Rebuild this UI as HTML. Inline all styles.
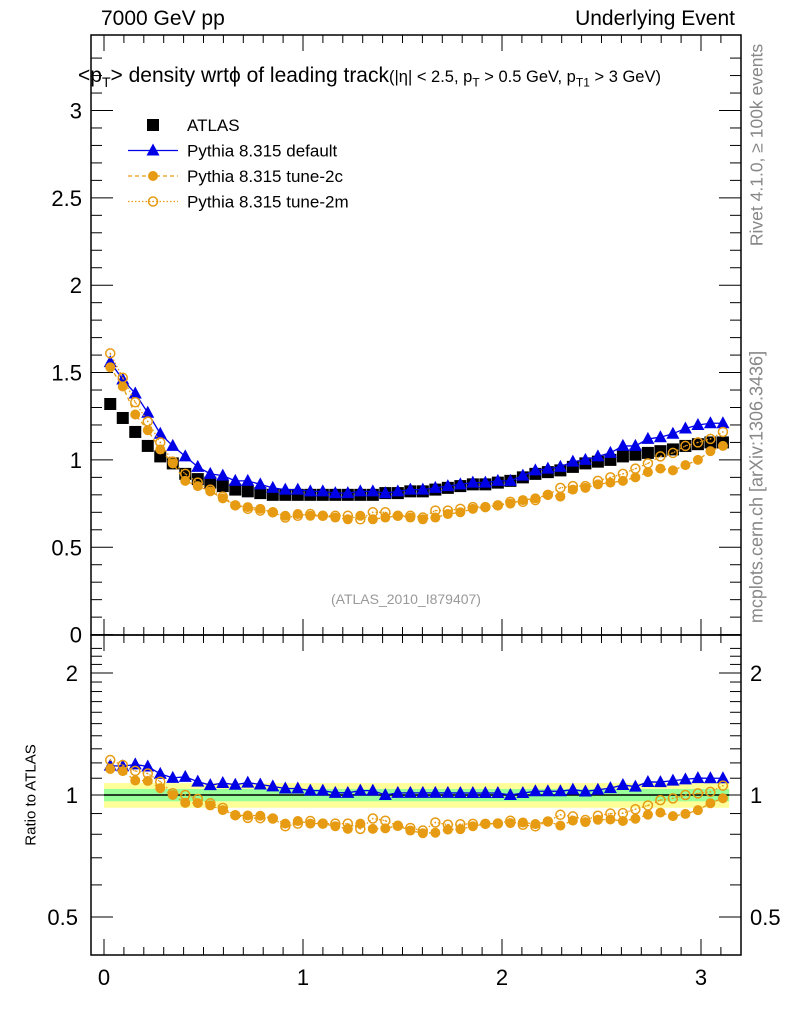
<!DOCTYPE html>
<html><head><meta charset="utf-8"><style>
body{margin:0;background:#fff}
svg{display:block;font-family:"Liberation Sans",sans-serif}
</style></head><body>
<svg id="c" width="786" height="1024" viewBox="0 0 786 1024"></svg>
<script>
const categoriesPhi = Array.from({length:50},(_,i)=>(i+0.5)*Math.PI/50);
const atlasValues=[1.32,1.24,1.16,1.08,1.02,0.98,0.92,0.89,0.87,0.85,0.83,0.82,0.81,0.80,0.80,0.80,0.80,0.80,0.80,0.80,0.80,0.80,0.81,0.81,0.82,0.82,0.83,0.84,0.85,0.86,0.86,0.87,0.88,0.90,0.92,0.93,0.94,0.96,0.98,0.99,1.00,1.02,1.03,1.04,1.05,1.06,1.08,1.09,1.10,1.10];
const defaultValues=[1.56,1.46,1.38,1.27,1.15,1.08,1.02,0.96,0.92,0.91,0.88,0.88,0.86,0.84,0.83,0.83,0.82,0.82,0.81,0.81,0.82,0.82,0.81,0.82,0.83,0.83,0.84,0.85,0.86,0.87,0.87,0.88,0.88,0.91,0.94,0.95,0.96,0.99,1.00,1.02,1.04,1.08,1.08,1.12,1.13,1.15,1.18,1.20,1.21,1.21];
const tune2cValues=[1.53,1.42,1.26,1.17,1.06,0.98,0.88,0.85,0.82,0.78,0.74,0.73,0.72,0.70,0.68,0.69,0.68,0.68,0.67,0.66,0.68,0.66,0.67,0.68,0.67,0.66,0.67,0.69,0.70,0.72,0.73,0.74,0.75,0.77,0.78,0.80,0.79,0.83,0.84,0.86,0.87,0.88,0.90,0.93,0.95,0.94,0.97,1.00,1.05,1.08];
const tune2mValues=[1.61,1.47,1.33,1.22,1.10,0.99,0.92,0.87,0.83,0.79,0.74,0.72,0.71,0.70,0.67,0.68,0.69,0.68,0.68,0.68,0.66,0.70,0.70,0.68,0.68,0.67,0.71,0.71,0.72,0.73,0.73,0.74,0.76,0.76,0.77,0.80,0.84,0.85,0.85,0.88,0.90,0.92,0.95,0.98,1.02,1.04,1.08,1.10,1.12,1.16];
const mainTicks=[0,0.5,1,1.5,2,2.5,3];
const mainTickLabels=["0","0.5","1","1.5","2","2.5","3"];
const ratioTicks=[0.5,1,2];
const ratioTickLabels=["0.5","1","2"];
const xTicks=[0,1,2,3];
const xTickLabels=["0","1","2","3"];
const bandOuter=0.07, bandInner=0.035;

const NS="http://www.w3.org/2000/svg";
const svg=document.getElementById('c');
function el(t,a,p){const e=document.createElementNS(NS,t);for(const k in a)e.setAttribute(k,a[k]);(p||svg).appendChild(e);return e;}
const L=91,R=741,T=35,M=635,B=955;
const X=v=>104+v*199;
const Y=v=>634.6-v*174.7;
const YR=r=>795-Math.log2(r)*122;
const BLUE="#0000e6",ORANGE="#e69b12";

let b1=el('rect',{x:X(0),y:YR(1+bandOuter),width:X(Math.PI)-X(0),height:YR(1-bandOuter)-YR(1+bandOuter),fill:"#ffff99"});

let b2=el('rect',{x:X(0),y:YR(1+bandInner),width:X(Math.PI)-X(0),height:YR(1-bandInner)-YR(1+bandInner),fill:"#99ff99"});

el('line',{x1:X(0),x2:X(Math.PI),y1:YR(1),y2:YR(1),stroke:"#000","stroke-width":1.5});

el('rect',{x:L,y:T,width:R-L,height:M-T,fill:"none",stroke:"#000","stroke-width":1.5});
el('rect',{x:L,y:M,width:R-L,height:B-M,fill:"none",stroke:"#000","stroke-width":1.5});

for(let v=0;v<=3.15;v+=0.1){const x=X(v);const maj=Math.abs(v-Math.round(v))<1e-6;const len=maj?16:8;
 for(const yb of [M,B]) el('line',{x1:x,x2:x,y1:yb,y2:yb-len,stroke:"#000"});
 el('line',{x1:x,x2:x,y1:T,y2:T+len,stroke:"#000"});
 el('line',{x1:x,x2:x,y1:M,y2:M+len,stroke:"#000"});}
xTicks.forEach((v,i)=>{const t=el('text',{x:X(v),y:985,"font-size":22,"text-anchor":"middle"});t.textContent=xTickLabels[i];
 });

for(let v=0;v<=3.4;v+=0.1){const y=Y(v);if(y<T)break;const maj=Math.abs(v*2-Math.round(v*2))<1e-6;const len=maj?22:11;
 el('line',{x1:L,x2:L+len,y1:y,y2:y,stroke:"#000"});el('line',{x1:R,x2:R-len,y1:y,y2:y,stroke:"#000"});}
mainTicks.forEach((v,i)=>{const t=el('text',{x:82,y:Y(v)+8,"font-size":22,"text-anchor":"end"});t.textContent=mainTickLabels[i];
 });

const rmin=[0.4,0.5,0.6,0.7,0.8,0.9,1.0,1.1,1.2,1.3,1.4,1.5,1.6,1.7,1.8,1.9,2.0,2.1,2.2,2.3];
rmin.forEach(r=>{const y=YR(r);if(y<M||y>B)return;const maj=[0.5,1,2].some(m=>Math.abs(m-r)<1e-6);const len=maj?22:11;
 el('line',{x1:L,x2:L+len,y1:y,y2:y,stroke:"#000"});el('line',{x1:R,x2:R-len,y1:y,y2:y,stroke:"#000"});});
ratioTicks.forEach((v,i)=>{let t=el('text',{x:78,y:YR(v)+8,"font-size":22,"text-anchor":"end"});t.textContent=ratioTickLabels[i];
 
 t=el('text',{x:750,y:YR(v)+8,"font-size":22});t.textContent=ratioTickLabels[i];
 });

function marker(kind,x,y,g){
 if(kind==='sq') el('rect',{x:x-6,y:y-6,width:12,height:12,fill:"#000"},g);
 else if(kind==='tri') el('polygon',{points:`${x},${y-7} ${x-6.5},${y+5} ${x+6.5},${y+5}`,fill:BLUE},g);
 else if(kind==='dot') el('circle',{cx:x,cy:y,r:5,fill:ORANGE},g);
 else {el('circle',{cx:x,cy:y,r:4.5,fill:"none",stroke:ORANGE,"stroke-width":1.5},g);el('circle',{cx:x,cy:y,r:0.8,fill:ORANGE},g);}
}
function series(name,vals,kind,color,dash,ratio){
 const g=el('g',{});
 const ys=vals.map((v,i)=>ratio?YR(v/atlasValues[i]):Y(v));
 if(color) el('polyline',{points:vals.map((v,i)=>X(categoriesPhi[i])+","+ys[i]).join(" "),fill:"none",stroke:color,"stroke-width":1.3,"stroke-dasharray":dash||"none"},g);
 vals.forEach((v,i)=>marker(kind,X(categoriesPhi[i]),ys[i],g));
}
series('atlas-data',atlasValues,'sq',null,null,false);
series('pythia-default',defaultValues,'tri',BLUE,null,false);
series('pythia-tune-2c',tune2cValues,'dot',ORANGE,"4,3",false);
series('pythia-tune-2m',tune2mValues,'circ',ORANGE,"1.5,2",false);
series('ratio-default',defaultValues,'tri',BLUE,null,true);
series('ratio-tune-2c',tune2cValues,'dot',ORANGE,"4,3",true);
series('ratio-tune-2m',tune2mValues,'circ',ORANGE,"1.5,2",true);

const leg=[['ATLAS','sq',null,null],['Pythia 8.315 default','tri',BLUE,null],['Pythia 8.315 tune-2c','dot',ORANGE,"4,3"],['Pythia 8.315 tune-2m','circ',ORANGE,"1.5,2"]];
leg.forEach((e,i)=>{const y=125+i*25.5;const g=el('g',{});
 if(e[2]) el('line',{x1:128,x2:178,y1:y,y2:y,stroke:e[2],"stroke-width":1.3,"stroke-dasharray":e[3]||"none"},g);
 marker(e[1],153,y,g);const t=el('text',{x:187,y:y+6,"font-size":17},g);t.textContent=e[0];});
</script>
<div style="position:absolute;left:0;top:0;width:786px;height:1024px;font-family:'Liberation Sans',sans-serif;pointer-events:none">
<div style="position:absolute;left:101px;top:7px;font-size:21px">7000 GeV pp</div>
<div style="position:absolute;right:51px;top:7px;font-size:21px">Underlying Event</div>
<div style="position:absolute;left:78px;top:64px;font-size:21px;white-space:nowrap">&lt;p<sub style="font-size:14px">T</sub>&gt; density wrt&#981; of leading track<span style="font-size:16.5px">(|&#951;| &lt; 2.5, p<sub style="font-size:12px">T</sub> &gt; 0.5 GeV, p<sub style="font-size:12px">T1</sub> &gt; 3 GeV)</span></div>
<div style="position:absolute;left:331px;top:591px;font-size:14px;color:#999">(ATLAS_2010_I879407)</div>
<div style="position:absolute;left:31px;top:795px;font-size:15px;transform:translate(-50%,-50%) rotate(-90deg);white-space:nowrap">Ratio to ATLAS</div>
<div style="position:absolute;left:757px;top:145px;font-size:17.5px;color:#888;transform:translate(-50%,-50%) rotate(-90deg);white-space:nowrap">Rivet 4.1.0, &#8805; 100k events</div>
<div style="position:absolute;left:757px;top:487px;font-size:18px;color:#888;transform:translate(-50%,-50%) rotate(-90deg);white-space:nowrap">mcplots.cern.ch [arXiv:1306.3436]</div>
</div>
</body></html>
